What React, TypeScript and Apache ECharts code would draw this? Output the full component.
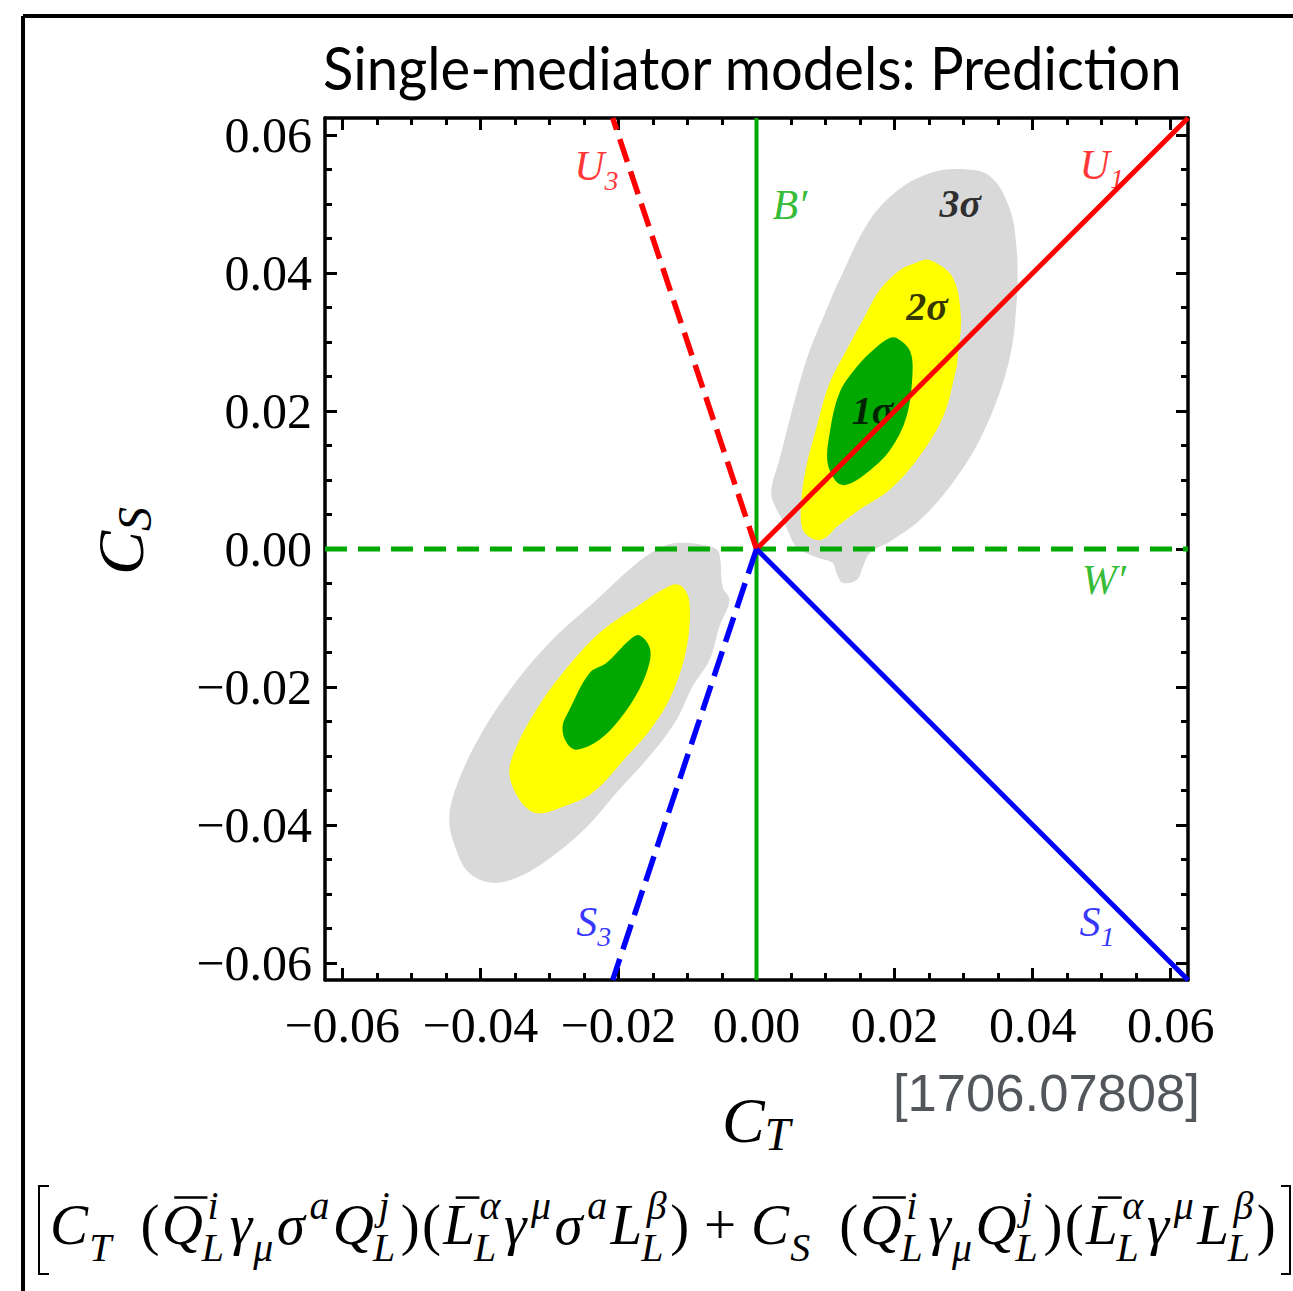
import React, { useEffect, useRef } from 'react';
import * as echarts from 'echarts';

// ---------- axis ----------
const AX_MIN = -0.0625;
const AX_MAX = 0.0625;
const majorTicks = [-0.06, -0.04, -0.02, 0, 0.02, 0.04, 0.06];
const minorTicks = [-0.055, -0.05, -0.045, -0.035, -0.03, -0.025, -0.015, -0.01, -0.005,
  0.005, 0.01, 0.015, 0.025, 0.03, 0.035, 0.045, 0.05, 0.055];

// ---------- confidence regions (C_T, C_S) ----------
const gray3Upper = [
  [0.0294, 0.0551], [0.0338, 0.0541], [0.0367, 0.0493], [0.0377, 0.0433], [0.0378, 0.0380],
  [0.0377, 0.0361], [0.0371, 0.0299], [0.0357, 0.0241], [0.0328, 0.0168], [0.0290, 0.0104],
  [0.0241, 0.0046], [0.0197, 0.0013], [0.0164, -0.0006], [0.0154, -0.0026], [0.0145, -0.0045],
  [0.0125, -0.0049], [0.0116, -0.0035], [0.0110, -0.0020], [0.0087, -0.0012], [0.0058, 0.0003],
  [0.0043, 0.0032], [0.0023, 0.0071], [0.0022, 0.0090], [0.0033, 0.0129], [0.0043, 0.0168],
  [0.0058, 0.0226], [0.0077, 0.0288], [0.0101, 0.0346], [0.0120, 0.0390], [0.0164, 0.0477],
  [0.0207, 0.0522], [0.0251, 0.0545],
];
const yellow2Upper = [
  [0.0251, 0.0419], [0.0284, 0.0394], [0.0296, 0.0336], [0.0291, 0.0274], [0.0290, 0.0264],
  [0.0270, 0.0191], [0.0232, 0.0129], [0.0193, 0.0086], [0.0149, 0.0057], [0.0116, 0.0032],
  [0.0101, 0.0017], [0.0087, 0.0013], [0.0067, 0.0028], [0.0065, 0.0071], [0.0072, 0.0119],
  [0.0087, 0.0177], [0.0106, 0.0241], [0.0130, 0.0288], [0.0154, 0.0332], [0.0178, 0.0375],
  [0.0207, 0.0404], [0.0233, 0.0416],
];
const green1Upper = [
  [0.0193, 0.0306], [0.0203, 0.0306], [0.0222, 0.0288], [0.0226, 0.0255], [0.0217, 0.0191],
  [0.0193, 0.0143], [0.0159, 0.0110], [0.0130, 0.0093], [0.0116, 0.0097], [0.0103, 0.0125],
  [0.0106, 0.0168], [0.0120, 0.0226], [0.0145, 0.0264], [0.0174, 0.0293],
];
const gray3Lower = [
  [-0.0112, 0.0009], [-0.0064, 0.0003], [-0.0054, -0.0006], [-0.0049, -0.0055], [-0.0039, -0.0074],
  [-0.0054, -0.0113], [-0.0068, -0.0161], [-0.0093, -0.0200], [-0.0116, -0.0248], [-0.0151, -0.0296],
  [-0.0199, -0.0349], [-0.0246, -0.0403], [-0.0296, -0.0446], [-0.0343, -0.0475], [-0.0383, -0.0484],
  [-0.0416, -0.0470], [-0.0435, -0.0436], [-0.0445, -0.0393], [-0.0435, -0.0345], [-0.0401, -0.0272],
  [-0.0354, -0.0200], [-0.0296, -0.0132], [-0.0232, -0.0074], [-0.0180, -0.0026], [-0.0141, 0.0001],
];
const yellow2Lower = [
  [-0.0122, -0.0052], [-0.0107, -0.0055], [-0.0097, -0.0078], [-0.0101, -0.0142], [-0.0122, -0.0209],
  [-0.0151, -0.0258], [-0.0188, -0.0301], [-0.0238, -0.0354], [-0.0281, -0.0374], [-0.0319, -0.0383],
  [-0.0343, -0.0364], [-0.0358, -0.0325], [-0.0348, -0.0287], [-0.0319, -0.0233], [-0.0281, -0.0180],
  [-0.0228, -0.0122], [-0.0174, -0.0084],
];
const green1Lower = [
  [-0.0170, -0.0125], [-0.0155, -0.0142], [-0.0155, -0.0165], [-0.0170, -0.0204], [-0.0199, -0.0248],
  [-0.0228, -0.0277], [-0.0261, -0.0291], [-0.0275, -0.0281], [-0.0281, -0.0258], [-0.0271, -0.0233],
  [-0.0242, -0.0180], [-0.0217, -0.0165], [-0.0184, -0.0132],
];

// ---------- mediator directions ----------
const lineU1 = [[0, 0], [0.0625, 0.0625]];
const lineU3 = [[0, 0], [-0.02083, 0.0625]];
const lineS1 = [[0, 0], [0.0625, -0.0625]];
const lineS3 = [[0, 0], [-0.02083, -0.0625]];
const lineB = [[0, -0.0625], [0, 0.0625]];
const lineW = [[-0.0625, 0], [0.0625, 0]];

// ---------- annotations ----------
const RED = '#ff0000';
const BLUE = '#0000ff';
const GREEN = '#00aa00';
const annotations = [
  { main: 'U', sub: '3', x: -0.0264, y: 0.0555, color: RED },
  { main: 'U', sub: '1', x: 0.0468, y: 0.0557, color: RED },
  { main: 'B′', sub: '', x: 0.0023, y: 0.0499, color: GREEN },
  { main: 'W′', sub: '', x: 0.0471, y: -0.0045, color: GREEN },
  { main: 'S', sub: '3', x: -0.0261, y: -0.0541, color: BLUE },
  { main: 'S', sub: '1', x: 0.0468, y: -0.0541, color: BLUE },
];
const sigmaLabels = [
  { t: '3σ', x: 0.0265, y: 0.0501 },
  { t: '2σ', x: 0.0217, y: 0.0352 },
  { t: '1σ', x: 0.0138, y: 0.0201 },
];

const TITLE = 'Single-mediator models: Prediction';
const REF = '[1706.07808]';

type Atom = { b?: string; it?: boolean; sup?: string; sub?: string; bar?: boolean; sp?: number };
const eqAtoms: Atom[] = [
  { b: 'C', it: true, sub: 'T' }, { sp: 0.45 }, { b: '(' },
  { b: 'Q', it: true, bar: true, sup: 'i', sub: 'L' }, { b: 'γ', it: true, sub: 'μ' },
  { b: 'σ', it: true, sup: 'a' }, { b: 'Q', it: true, sup: 'j', sub: 'L' }, { b: ')' },
  { b: '(' }, { b: 'L', it: true, bar: true, sup: 'α', sub: 'L' }, { b: 'γ', it: true, sup: 'μ' },
  { b: 'σ', it: true, sup: 'a' }, { b: 'L', it: true, sup: 'β', sub: 'L' }, { b: ')' },
  { sp: 0.22 }, { b: '+' }, { sp: 0.22 },
  { b: 'C', it: true, sub: 'S' }, { sp: 0.45 }, { b: '(' },
  { b: 'Q', it: true, bar: true, sup: 'i', sub: 'L' }, { b: 'γ', it: true, sub: 'μ' },
  { b: 'Q', it: true, sup: 'j', sub: 'L' }, { b: ')' },
  { b: '(' }, { b: 'L', it: true, bar: true, sup: 'α', sub: 'L' }, { b: 'γ', it: true, sup: 'μ' },
  { b: 'L', it: true, sup: 'β', sub: 'L' }, { b: ')' },
];

const SERIF = '"Liberation Serif", "Times New Roman", serif';

const fmt = (v: number) => {
  const a = Math.abs(v).toFixed(2);
  return Math.abs(v) < 1e-9 ? '0.00' : (v < 0 ? '−' + a : a);
};

function measurer() {
  const c = document.createElement('canvas').getContext('2d') as CanvasRenderingContext2D;
  return (t: string, size: number, family: string, italic = false, bold = false) => {
    c.font = `${italic ? 'italic ' : ''}${bold ? 'bold ' : ''}${size}px ${family}`;
    return c.measureText(t).width;
  };
}

function buildEquation(mw: ReturnType<typeof measurer>) {
  const S = 58;
  const s = 0.7 * S;
  const els: any[] = [];
  const txt = (t: string, x: number, base: number, size: number, it: boolean) => {
    els.push({
      type: 'text', x, y: base - 0.34 * size, silent: true,
      style: { text: t, fontSize: size, fontFamily: SERIF, fontStyle: it ? 'italic' : 'normal', fill: '#000', verticalAlign: 'middle', align: 'left' },
    });
  };
  let x = 0;
  eqAtoms.forEach((a) => {
    if (a.sp) { x += a.sp * S; return; }
    const b = a.b as string;
    const it = !!a.it;
    const w = mw(b, S, SERIF, it);
    txt(b, x, 0, S, it);
    if (a.bar) {
      els.push({ type: 'line', silent: true, shape: { x1: x + 0.22 * S, y1: -0.8 * S, x2: x + w + 0.08 * S, y2: -0.8 * S }, style: { stroke: '#000', lineWidth: 2.5 } });
    }
    const xs = x + w + (it ? 0.04 * S : 0.03 * S);
    let sw = 0;
    if (a.sup) { txt(a.sup, xs + 0.04 * S, -0.42 * S, s, true); sw = Math.max(sw, mw(a.sup, s, SERIF, true) + 0.04 * S); }
    if (a.sub) { txt(a.sub, xs - (a.sup ? 0.06 * S : 0.02 * S), 0.3 * S, s, true); sw = Math.max(sw, mw(a.sub, s, SERIF, true) - 0.02 * S); }
    x = xs + sw + (sw > 0 ? 0.06 * S : 0.01 * S);
  });
  return { els, width: x };
}

const polySeries = (pts: number[][], color: string) => ({
  type: 'custom', coordinateSystem: 'cartesian2d', data: pts, silent: true,
  encode: { x: 0, y: 1 }, z: 1,
  renderItem: (params: any, api: any) => {
    if (params.dataIndex !== 0) return null;
    return { type: 'polygon', shape: { points: pts.map((p) => api.coord(p)), smooth: 0.35 }, style: { fill: color } };
  },
});

const lineSeries = (pts: number[][], color: string, width: number, dash: any) => ({
  type: 'line', data: pts, showSymbol: false, symbol: 'none', silent: true, z: 4,
  lineStyle: { color, width, type: dash, cap: 'butt' },
});

const axisBase = (pos: string, major: boolean, main: boolean, isX: boolean) => ({
  type: 'value', position: pos, min: AX_MIN, max: AX_MAX,
  axisLine: { show: major, onZero: false, lineStyle: { color: '#000', width: 3.5 } },
  axisTick: { show: true, inside: true, length: major ? 12 : 7, customValues: major ? majorTicks : minorTicks, lineStyle: { color: '#000', width: 3 } },
  axisLabel: main ? { show: true, customValues: majorTicks, formatter: fmt, fontSize: 50, fontFamily: SERIF, color: '#000', margin: isX ? 20 : 13 } : { show: false },
  splitLine: { show: false },
});

export default function App() {
  const ref = useRef<HTMLDivElement>(null);
  useEffect(() => {
    if (!ref.current) return;
    const chart = echarts.init(ref.current, null, { renderer: 'svg' });
    const mw = measurer();
    const titleW = mw(TITLE, 60, 'Lato');
    const titleScale = 860 / titleW;
    const eq = buildEquation(mw);
    const eqScale = 1228 / eq.width;
    const refW = mw(REF, 51, '"Liberation Sans"');
    const refScale = 307 / refW;

    const richMain = (color: string) => ({ fontSize: 42, fontStyle: 'italic', fontFamily: SERIF, color });
    const richSub = (color: string) => ({ fontSize: 28, fontStyle: 'italic', fontFamily: SERIF, color, padding: [28, 0, 0, 0] });

    chart.setOption({
      animation: false,
      backgroundColor: '#ffffff',
      grid: { left: 325, top: 118, width: 863, height: 862, containLabel: false },
      xAxis: [axisBase('bottom', true, true, true), axisBase('bottom', false, false, true), axisBase('top', true, false, true), axisBase('top', false, false, true)],
      yAxis: [axisBase('left', true, true, false), axisBase('left', false, false, false), axisBase('right', true, false, false), axisBase('right', false, false, false)],
      series: [
        polySeries(gray3Upper, '#d9d9d9'),
        polySeries(gray3Lower, '#d9d9d9'),
        polySeries(yellow2Upper, '#ffff00'),
        polySeries(yellow2Lower, '#ffff00'),
        polySeries(green1Upper, '#00a800'),
        polySeries(green1Lower, '#00a800'),
        {
          type: 'scatter', symbolSize: 0, silent: true, z: 3,
          data: sigmaLabels.map((d) => ({
            value: [d.x, d.y],
            label: { show: true, position: 'right', distance: 0, formatter: d.t, fontSize: 40, fontStyle: 'italic', fontWeight: 'bold', fontFamily: SERIF, color: '#000' },
          })),
        },
        lineSeries(lineB, GREEN, 4, 'solid'),
        lineSeries(lineW, GREEN, 5, [22, 11]),
        lineSeries(lineU1, RED, 5, 'solid'),
        lineSeries(lineU3, RED, 5.5, [24, 10]),
        lineSeries(lineS1, BLUE, 5, 'solid'),
        lineSeries(lineS3, BLUE, 5.5, [26, 10]),
        {
          type: 'scatter', symbolSize: 0, silent: true, z: 5,
          data: annotations.map((a) => ({
            value: [a.x, a.y],
            label: {
              show: true, position: 'right', distance: 0,
              formatter: a.sub ? `{m|${a.main}}{s|${a.sub}}` : `{m|${a.main}}`,
              rich: { m: richMain(a.color), s: richSub(a.color) },
            },
          })),
        },
      ],
      graphic: [
        { type: 'line', silent: true, shape: { x1: 23, y1: 16, x2: 1293, y2: 16 }, style: { stroke: '#000', lineWidth: 4 } },
        { type: 'line', silent: true, shape: { x1: 23, y1: 16, x2: 23, y2: 1291 }, style: { stroke: '#000', lineWidth: 4 } },
        {
          type: 'text', x: 323, y: 67, scaleX: titleScale, silent: true,
          style: { text: TITLE, fontSize: 60, fontFamily: 'Lato', fill: '#000', align: 'left', verticalAlign: 'middle' },
        },
        {
          type: 'text', x: 722, y: 1120, silent: true,
          style: {
            text: '{m|C}{s|T}', align: 'left', verticalAlign: 'middle',
            rich: { m: { fontSize: 64, fontStyle: 'italic', fontFamily: SERIF, fill: '#000' }, s: { fontSize: 46, fontStyle: 'italic', fontFamily: SERIF, fill: '#000', padding: [28, 0, 0, 0] } },
          },
        },
        {
          type: 'text', x: 120, y: 575, rotation: Math.PI / 2, silent: true,
          style: {
            text: '{m|C}{s|S}', align: 'left', verticalAlign: 'middle',
            rich: { m: { fontSize: 66, fontStyle: 'italic', fontFamily: SERIF, fill: '#000' }, s: { fontSize: 48, fontStyle: 'italic', fontFamily: SERIF, fill: '#000', padding: [28, 0, 0, 0] } },
          },
        },
        {
          type: 'text', x: 893, y: 1093, scaleX: refScale, silent: true,
          style: { text: REF, fontSize: 51, fontFamily: '"Liberation Sans", Arial, sans-serif', fill: '#53575c', align: 'left', verticalAlign: 'middle' },
        },
        { type: 'polyline', silent: true, shape: { points: [[49, 1186], [39, 1186], [39, 1274], [49, 1274]] }, style: { stroke: '#000', lineWidth: 2, fill: null } },
        { type: 'polyline', silent: true, shape: { points: [[1281, 1186], [1290, 1186], [1290, 1274], [1281, 1274]] }, style: { stroke: '#000', lineWidth: 2, fill: null } },
        { type: 'group', x: 50, y: 1244, scaleX: eqScale, children: eq.els },
      ],
    });
    return () => chart.dispose();
  }, []);
  return <div ref={ref} style={{ position: 'fixed', left: 0, top: 0, width: 1293, height: 1291 }} />;
}
